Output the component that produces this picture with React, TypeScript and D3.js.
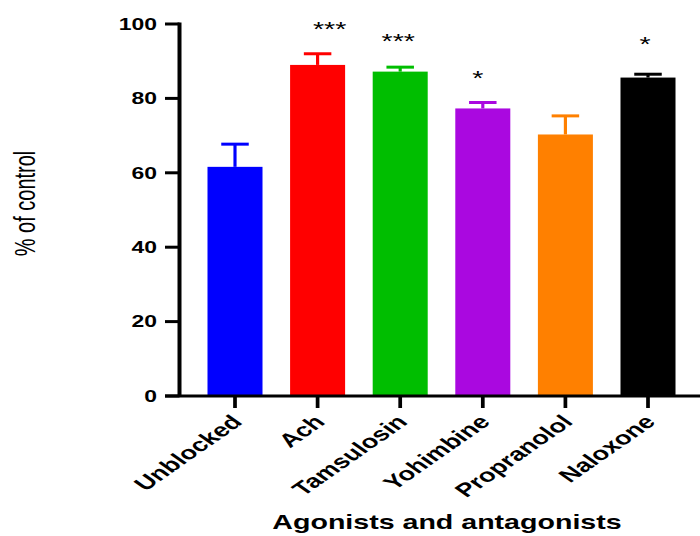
import React from "react";
import * as d3 from "d3";

const categories = ["Unblocked", "Ach", "Tamsulosin", "Yohimbine", "Propranolol", "Naloxone"];
const means = [61.6, 89.0, 87.2, 77.3, 70.3, 85.6];
const errUpper = [67.7, 92.0, 88.4, 78.9, 75.3, 86.5];
const stars = ["", "***", "***", "*", "", "*"];
const colors = ["#0000FF", "#FF0000", "#00BE00", "#AA08E0", "#FF8000", "#000000"];
const yTicks = [0, 20, 40, 60, 80, 100];
const yTitle = "% of control";
const xTitle = "Agonists and antagonists";

// layout (the original is horizontally stretched)
const W = 700;
const H = 536;
const S = 1.43;
const starDx = [0, 12, -2, -5, 0, -3];
const starDy = [0, 0, 2, 0, 0, 6];
const FONT = "'Liberation Sans', Arial, Helvetica, sans-serif";

export default function App() {
  const x = d3
    .scaleBand<string>()
    .domain(categories)
    .range([193.7 / S, 689.3 / S])
    .paddingInner(0.334)
    .paddingOuter(0.167);
  const y = d3.scaleLinear().domain([0, 100]).range([396, 24]);
  const bw = x.bandwidth();
  const axisLeft = 179.5 / S;

  return (
    <svg
      width={W}
      height={H}
      style={{ position: "absolute", left: 0, top: 0, background: "#fff" }}
    >
      <g transform={`scale(${S},1)`} fontFamily={FONT}>
        {/* bars */}
        {categories.map((c, i) => {
          const x0 = x(c)!;
          const cx = x0 + bw / 2;
          const col = colors[i];
          return (
            <g key={c}>
              <rect x={x0} y={y(means[i])} width={bw} height={y(0) - y(means[i])} fill={col} />
              <line x1={cx} x2={cx} y1={y(means[i])} y2={y(errUpper[i])} stroke={col} strokeWidth={2.2} />
              <line x1={cx - bw / 4} x2={cx + bw / 4} y1={y(errUpper[i])} y2={y(errUpper[i])} stroke={col} strokeWidth={3} />
              {stars[i] && (
                <text
                  x={cx + starDx[i] / S}
                  y={y(errUpper[i]) - 29 + 11.5 - starDy[i]}
                  textAnchor="middle"
                  fontSize={20}
                  fill="#000"
                >
                  {stars[i]}
                </text>
              )}
            </g>
          );
        })}

        {/* y axis */}
        <line x1={axisLeft} x2={axisLeft} y1={y(100) - 1.5} y2={y(0)} stroke="#000" strokeWidth={2.8} />
        {yTicks.map((t) => (
          <g key={t}>
            <line x1={165 / S} x2={axisLeft} y1={y(t)} y2={y(t)} stroke="#000" strokeWidth={3} />
            <text
              x={157 / S}
              y={y(t)}
              dy="0.36em"
              textAnchor="end"
              fontSize={16}
              fontWeight="bold"
              fill="#000"
            >
              {t}
            </text>
          </g>
        ))}

        {/* x axis */}
        <line x1={165 / S} x2={W / S} y1={y(0)} y2={y(0)} stroke="#000" strokeWidth={3} />
        {categories.map((c) => {
          const cx = x(c)! + bw / 2;
          return (
            <g key={c}>
              <line x1={cx} x2={cx} y1={y(0)} y2={y(0) + 12} stroke="#000" strokeWidth={2.6} />
              <text
                transform={`translate(${cx + 6},${423}) rotate(-45)`}
                textAnchor="end"
                fontSize={19}
                fontWeight="bold"
                fill="#000"
              >
                {c}
              </text>
            </g>
          );
        })}

        {/* titles */}
        <text
          transform={`translate(${35 / S},${203.5}) rotate(-90)`}
          textAnchor="middle"
          fontSize={20}
          fill="#000"
        >
          {yTitle}
        </text>
        <text x={447 / S} y={529} textAnchor="middle" fontSize={20} fontWeight="bold" fill="#000">
          {xTitle}
        </text>
      </g>
    </svg>
  );
}
